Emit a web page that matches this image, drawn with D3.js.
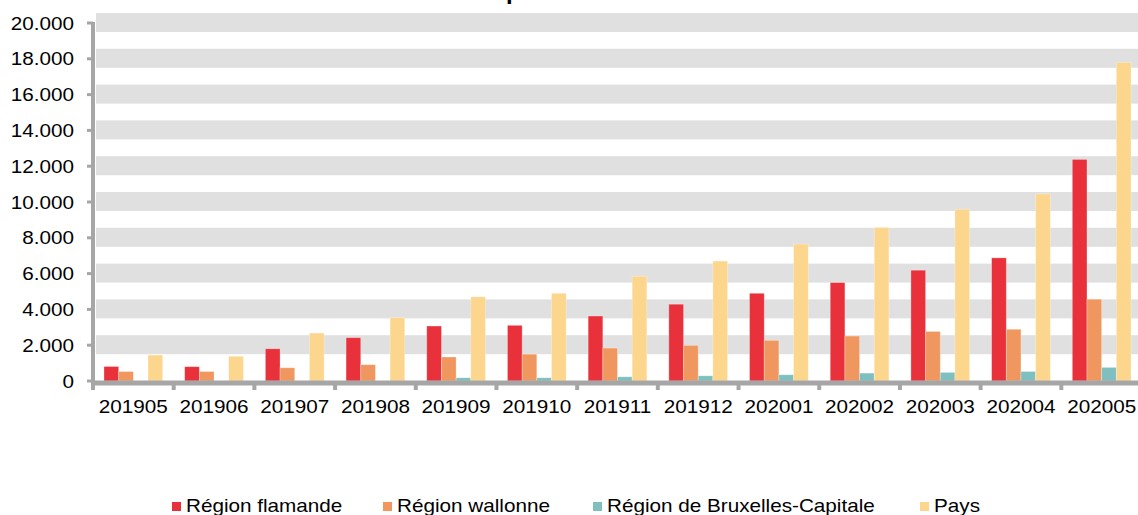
<!DOCTYPE html>
<meta charset="utf-8">
<style>
body { margin: 0; background: #fff; }
text { font-family: "Liberation Sans", Arial, sans-serif; fill: #000; }
</style>
<svg width="1138" height="515"></svg>
<script src="https://cdn.jsdelivr.net/npm/d3@7"></script>
<script>

var months = ["201905","201906","201907","201908","201909","201910","201911","201912","202001","202002","202003","202004","202005"];
var series = ["Région flamande","Région wallonne","Région de Bruxelles-Capitale","Pays"];
var colors = ["#E8313A","#F0975F","#7FBFBF","#FDD68E"];

var flamande  = [810, 800, 1800, 2420, 3070, 3110, 3630, 4290, 4900, 5500, 6190, 6880, 12380];
var wallonne  = [530, 530, 740, 910, 1340, 1500, 1840, 1990, 2270, 2510, 2770, 2890, 4570];
var bruxelles = [0, 0, 0, 0, 180, 180, 235, 290, 350, 440, 480, 530, 760];
var pays      = [1450, 1380, 2680, 3540, 4700, 4900, 5850, 6700, 7650, 8580, 9600, 10450, 17800];
var yTicks = [0, 2000, 4000, 6000, 8000, 10000, 12000, 14000, 16000, 18000, 20000];

var values = [flamande, wallonne, bruxelles, pays];

var svg = d3.select("svg"),
    width = +svg.attr("width");

var stretch = 1.15; // text in the picture is slightly wide
var fmt = function(v) { return v === 0 ? "0" : d3.format(",")(v).replace(/,/g, "."); };

var x = d3.scaleBand().domain(months).range([93, 1142]).padding(0);
var bw = x.bandwidth();
var x1 = d3.scaleBand().domain(series).range([11, bw - 11]).padding(0);
var y = d3.scaleLinear().domain([0, 20000]).range([381, 23]);

// grey bands on the gridlines
svg.append("g").selectAll("rect")
  .data(yTicks.filter(function(d) { return d > 0; }))
  .enter().append("rect")
  .attr("x", 96).attr("width", width - 96)
  .attr("y", function(d) { return y(d) - 10; })
  .attr("height", 19)
  .attr("fill", "#E0E0E0");

// bars
var groups = svg.append("g").selectAll("g")
  .data(months).enter().append("g")
  .attr("transform", function(d) { return "translate(" + x(d) + ",0)"; });

groups.selectAll("rect")
  .data(function(m, i) { return series.map(function(s, k) { return {s: s, k: k, v: values[k][i]}; }); })
  .enter().append("rect")
  .attr("x", function(d) { return x1(d.s); })
  .attr("width", x1.bandwidth())
  .attr("y", function(d) { return y(d.v); })
  .attr("height", function(d) { return y(0) - y(d.v); })
  .attr("fill", function(d) { return colors[d.k]; })
  .attr("stroke", "#fff").attr("stroke-opacity", 0.35).attr("stroke-width", 0.8);

// axes
var axisCol = "#A6A6A6";
svg.append("line").attr("x1", 93).attr("x2", 93).attr("y1", 22).attr("y2", 386)
  .attr("stroke", axisCol).attr("stroke-width", 4);
svg.append("line").attr("x1", 91).attr("x2", width).attr("y1", 383).attr("y2", 383)
  .attr("stroke", axisCol).attr("stroke-width", 5);

svg.append("g").selectAll("line").data(yTicks).enter().append("line")
  .attr("x1", 87).attr("x2", 93)
  .attr("y1", function(d) { return y(d); }).attr("y2", function(d) { return y(d); })
  .attr("stroke", axisCol).attr("stroke-width", 3);

svg.append("g").selectAll("line").data(months).enter().append("line")
  .attr("x1", function(d) { return x(d); }).attr("x2", function(d) { return x(d); })
  .attr("y1", 383).attr("y2", 390)
  .attr("stroke", axisCol).attr("stroke-width", 4);

// tick labels
svg.append("g").selectAll("text").data(yTicks).enter().append("text")
  .attr("transform", function(d) { return "translate(74," + (y(d) + 6.5) + ") scale(" + stretch + ",1)"; })
  .attr("text-anchor", "end")
  .style("font-size", "18px")
  .text(fmt);

svg.append("g").selectAll("text").data(months).enter().append("text")
  .attr("transform", function(d) { return "translate(" + (x(d) + bw / 2) + ",413) scale(" + stretch + ",1)"; })
  .attr("text-anchor", "middle")
  .style("font-size", "18px")
  .text(function(d) { return d; });

// title (cut off at the top, as in the original)
svg.append("text")
  .attr("x", 570).attr("y", -1.5)
  .attr("text-anchor", "middle")
  .style("font-size", "24px").style("font-weight", "bold")
  .text("précédents");

// legend
var legendX = [172, 383, 593, 920];
var legend = svg.append("g").selectAll("g").data(series).enter().append("g")
  .attr("transform", function(d, i) { return "translate(" + legendX[i] + ",0)"; });
legend.append("rect")
  .attr("x", 0).attr("y", 502).attr("width", 9).attr("height", 9)
  .attr("fill", function(d, i) { return colors[i]; });
legend.append("text")
  .attr("transform", "translate(14,512) scale(" + stretch + ",1)")
  .style("font-size", "18px")
  .text(function(d) { return d; });

</script>
